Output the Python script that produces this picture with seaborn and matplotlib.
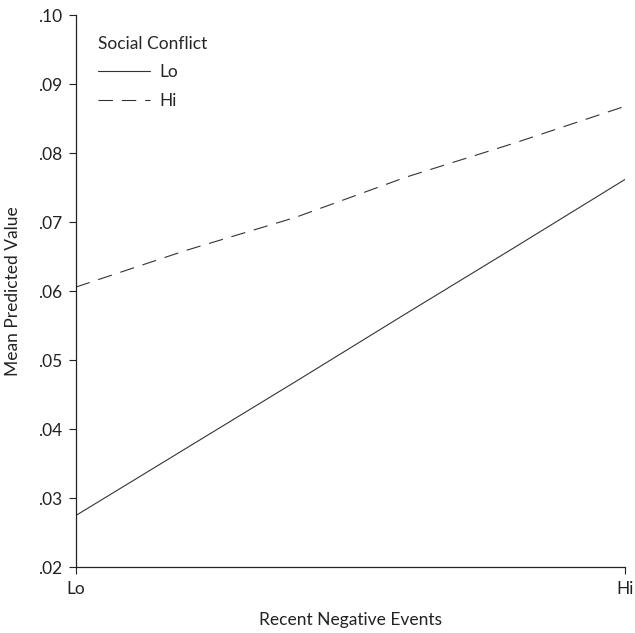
import pandas as pd
import matplotlib.pyplot as plt
import seaborn as sns

# Datos
x_pos = [0.0, 0.2, 0.4, 0.6, 0.8, 1.0]
lo_conflict = [0.0275, 0.0372, 0.0469, 0.0567, 0.0664, 0.0762]
hi_conflict = [0.0606, 0.0659, 0.0707, 0.0765, 0.0815, 0.0868]
x_ticklabels = ["Lo", "Hi"]
y_ticks = [0.02, 0.03, 0.04, 0.05, 0.06, 0.07, 0.08, 0.09, 0.10]

df = pd.DataFrame({
    "x": x_pos * 2,
    "valor": lo_conflict + hi_conflict,
    "Social Conflict": ["Lo"] * len(x_pos) + ["Hi"] * len(x_pos),
})

sns.set_style("ticks")
plt.rcParams["font.family"] = ["Lato", "DejaVu Sans"]

fig = plt.figure(figsize=(6.35, 6.33), dpi=100)
ax = fig.add_axes([0.1197, 0.104, 0.8646, 0.872])

sns.lineplot(
    data=df, x="x", y="valor",
    style="Social Conflict", style_order=["Lo", "Hi"],
    dashes={"Lo": "", "Hi": (13, 8)},
    color="#333333", linewidth=0.8, ax=ax,
)

ax.set_xlim(0, 1)
ax.set_ylim(0.02, 0.10)
ax.set_xticks([0, 1])
ax.set_xticklabels(x_ticklabels)
ax.set_yticks(y_ticks)
ax.set_yticklabels([f"{v:.2f}"[1:] for v in y_ticks])
ax.tick_params(length=5, width=0.8, labelsize=12.5, colors="#222222", pad=5)

sns.despine(ax=ax)
for s in ["left", "bottom"]:
    ax.spines[s].set_linewidth(0.9)
    ax.spines[s].set_color("#222222")

ax.set_xlabel("Recent Negative Events", fontsize=12.5, labelpad=11, color="#222222")
ax.set_ylabel("Mean Predicted Value", fontsize=12.5, labelpad=12, color="#222222")

leg = ax.legend(
    title="Social Conflict", loc="upper left", frameon=False,
    bbox_to_anchor=(0.012, 0.99), fontsize=12.5, title_fontsize=12.5,
    handlelength=3.0, handletextpad=0.5, labelspacing=0.7,
)
leg._legend_box.align = "left"

fig.savefig("out.png", dpi=100)
